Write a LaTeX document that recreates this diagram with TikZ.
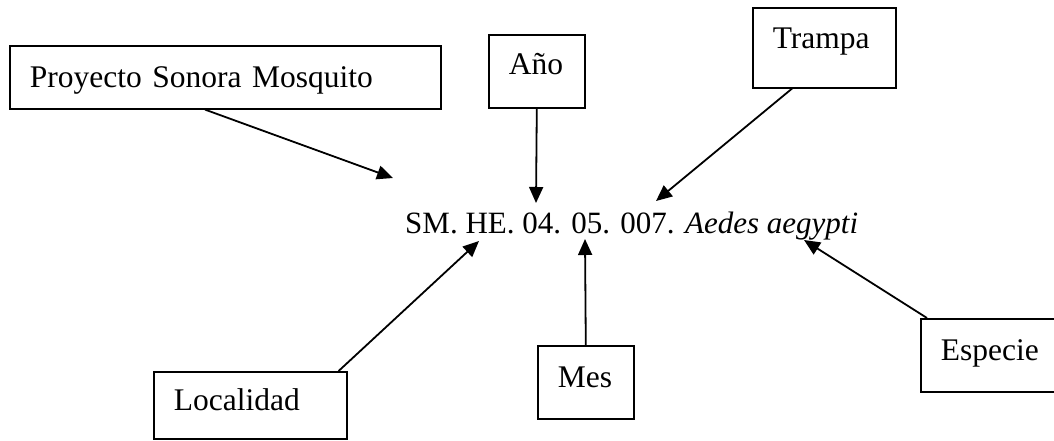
\documentclass[tikz,border=0pt]{standalone}
\usepackage{fontspec}
\setmainfont{Liberation Serif}
\usetikzlibrary{arrows.meta}
\begin{document}
\begin{tikzpicture}[x=1pt,y=-1pt,
  lbl/.style={draw, line width=1.6pt, anchor=north west, inner xsep=20pt, inner ysep=0pt,
    align=left, font=\fontsize{31.5}{36}\selectfont},
  arr/.style={line width=1.8pt, -{Triangle[length=16pt,width=14pt]}}]
\useasboundingbox (0,0) rectangle (1054,440);
% boxes
\node[lbl, text width=391pt, text height=42pt, text depth=21pt] (proj) at (9,45) {Proyecto Sonora Mosquito};
\node[lbl, text width=56pt, text height=40pt, text depth=33pt] (anio) at (488,34) {Año};
\node[lbl, text width=103pt, text height=41pt, text depth=39pt] (trampa) at (752,7) {Trampa};
\node[lbl, text width=153pt, text height=39pt, text depth=28pt] (local) at (153,371) {Localidad};
\node[lbl, text width=56pt, text height=42pt, text depth=31pt] (mes) at (537,345) {Mes};
\node[lbl, text width=120pt, text height=42pt, text depth=31pt] (especie) at (920,318) {Especie};
% central code
\node[anchor=base west, inner sep=0pt, font=\fontsize{31}{36}\selectfont] (code) at (405,233)
  {SM. HE. 04. 05. 007. \textit{Aedes aegypti}};
% arrow targets
\coordinate (tproj) at (393,178);
\coordinate (tanio) at (536,203);
\coordinate (ttrampa) at (656,201);
\coordinate (tlocal) at (479,241);
\coordinate (tmes) at (585,239);
\coordinate (tespecie) at (804,240);
% connectors
\draw[arr] ([xshift=196pt]proj.south west) -- (tproj);
\draw[arr] (anio.south) -- (tanio);
\draw[arr] ([xshift=40pt]trampa.south west) -- (ttrampa);
\draw[arr] ([xshift=-9pt]local.north east) -- (tlocal);
\draw[arr] (mes.north) -- (tmes);
\draw[arr] ([xshift=7pt]especie.north west) -- (tespecie);
\end{tikzpicture}
\end{document}
